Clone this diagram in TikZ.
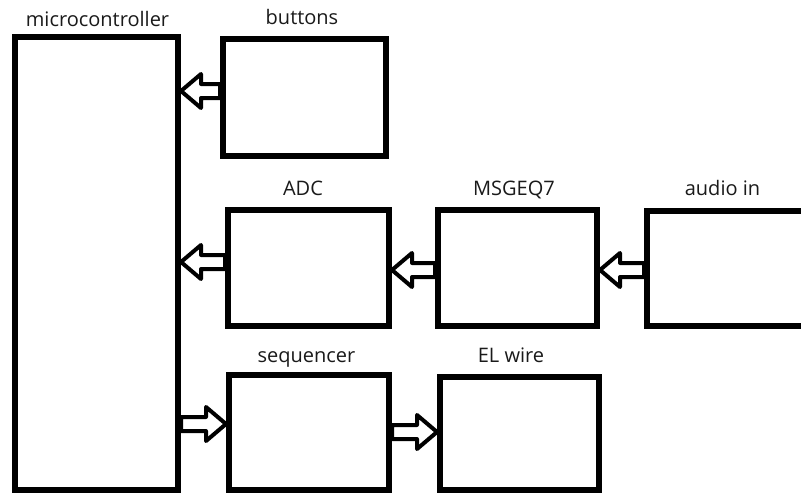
\documentclass[tikz,border=0pt]{standalone}
\usepackage{fontspec}
\setmainfont{Open Sans}
\usetikzlibrary{calc}
\definecolor{lblcol}{HTML}{1A1A1A}
\tikzset{
  box/.style={draw=black, line width=6pt, inner sep=0pt, outer sep=3pt, fill=white},
  lbl/.style={font=\fontsize{20}{22}\selectfont, anchor=base, text=lblcol, inner sep=0pt},
  arrowline/.style={draw=black, line width=4pt, line join=round, fill=white}
}
\newcommand\hollowarrow[2]{%
  \draw[arrowline] let \p1=(#1), \p2=(#2),
    \n2={ifthenelse(\x2>\x1,\x2-20pt,\x2+20pt)} in
    (\x1,\y1+7pt) -- (\n2,\y1+7pt) -- (\n2,\y1+17pt)
    -- (\x2,\y1) -- (\n2,\y1-17pt) -- (\n2,\y1-7pt)
    -- (\x1,\y1-7pt) -- cycle;}
\begin{document}
\begin{tikzpicture}[x=1pt,y=-1pt]
\clip (0,0) rectangle (801,493);
\fill[white] (0,0) rectangle (801,493);
% boxes
\node[box, minimum width=163.5pt, minimum height=453pt] (micro) at (96.25,263.5) {};
\node[box, minimum width=162.5pt, minimum height=116.5pt] (btn) at (304.25,97.25) {};
\node[box, minimum width=161pt, minimum height=116pt] (adc) at (308.5,268) {};
\node[box, minimum width=159pt, minimum height=116pt] (msg) at (517.5,268) {};
\node[box, minimum width=180pt, minimum height=115pt] (audio) at (737,268.5) {};
\node[box, minimum width=160pt, minimum height=115pt] (seq) at (309,432.5) {};
\node[box, minimum width=159pt, minimum height=113pt] (el) at (519.5,433.5) {};
% labels
\node[lbl] (lmicro) at (97.5,26) {microcontroller};
\node[lbl] (lbtn) at (302,24) {buttons};
\node[lbl] (ladc) at (303,195) {ADC};
\node[lbl] (lmsg) at (514,195) {MSGEQ7};
\node[lbl] (laudio) at (722.5,195) {audio in};
\node[lbl] (lseq) at (306.5,362) {sequencer};
\node[lbl] (lel) at (511,362) {EL wire};
% arrow rows
\coordinate (r1) at (0,91);
\coordinate (r2) at (0,262);
\coordinate (r3) at (0,270);
\coordinate (r4) at (0,424);
\coordinate (r5) at (0,432);
\hollowarrow{btn.west |- r1}{micro.east |- r1}
\hollowarrow{adc.west |- r2}{micro.east |- r2}
\hollowarrow{msg.west |- r3}{adc.east |- r3}
\hollowarrow{audio.west |- r3}{msg.east |- r3}
\hollowarrow{micro.east |- r4}{seq.west |- r4}
\hollowarrow{seq.east |- r5}{el.west |- r5}
\end{tikzpicture}
\end{document}
